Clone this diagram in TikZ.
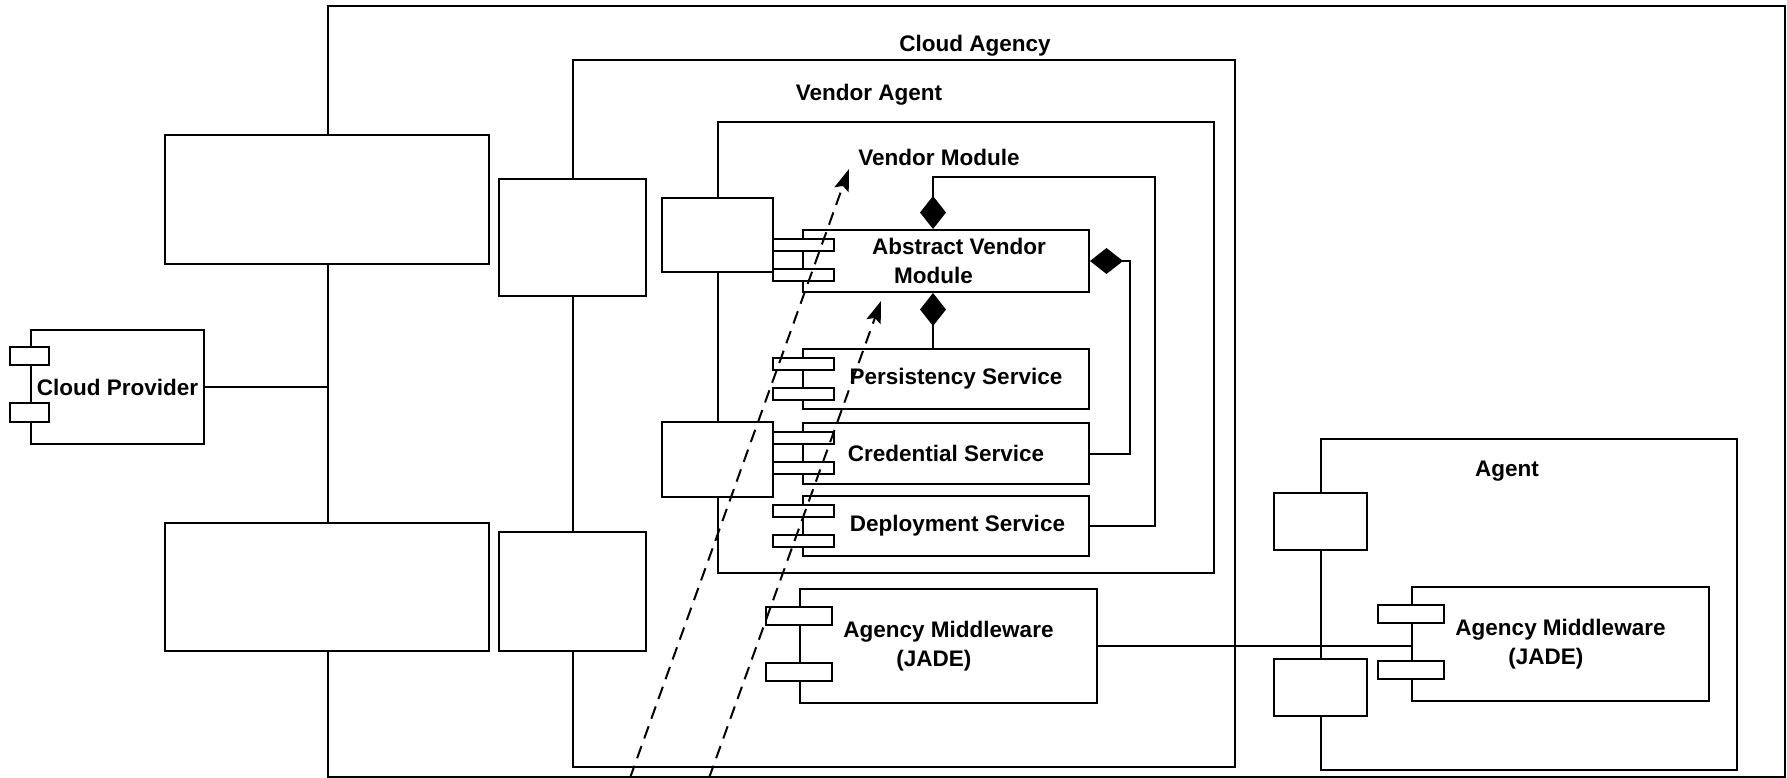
\documentclass[tikz,border=0pt]{standalone}
\usepackage{fontspec}
\setmainfont{Liberation Sans}
\usetikzlibrary{arrows.meta}

\tikzset{
  box/.style={draw, fill=white, line width=2pt, inner sep=0pt, anchor=north west},
  comp/.style={box, align=left},
  tab/.style={draw, fill=white, line width=2pt},
  lbl/.style={inner sep=0pt},
  part/.style={line width=2pt, -{Diamond[length=33pt,width=26pt]}},
  dep/.style={line width=2pt, dash pattern=on 13pt off 8pt, -{Stealth[length=22pt,width=15pt,inset=4pt]}},
}

\begin{document}
\begin{tikzpicture}[x=1pt, y=-1pt, font=\bfseries\fontsize{22.5}{29}\selectfont]
    \useasboundingbox (0,0) rectangle (1787,778);

    % containers
    \node[box, minimum width=1457pt, minimum height=771pt] (agency) at (327,5) {};
    \node[box, minimum width=662pt, minimum height=707pt] (vagent) at (572,59) {};
    \node[box, minimum width=496pt, minimum height=451pt] (vmodule) at (717,121) {};
    \node[box, minimum width=416pt, minimum height=331pt] (agent) at (1320,438) {};

    \node[lbl] (agencyname) at (975,46) {Cloud Agency};
    \node[lbl] (vagentname) at (869,95) {Vendor Agent};
    \node[lbl] (vmodulename) at (939,157) {Vendor Module};
    \node[lbl] (agentname) at (1507,471) {Agent};

    % ports
    \node[box, minimum width=324pt, minimum height=129pt] (caport1) at (164,134) {};
    \node[box, minimum width=324pt, minimum height=128pt] (caport2) at (164,522) {};
    \node[box, minimum width=147pt, minimum height=117pt] (vaport1) at (498,178) {};
    \node[box, minimum width=147pt, minimum height=119pt] (vaport2) at (498,531) {};
    \node[box, minimum width=111pt, minimum height=74pt] (vmport1) at (661,197) {};
    \node[box, minimum width=111pt, minimum height=75pt] (vmport2) at (661,421) {};
    \node[box, minimum width=93pt, minimum height=57pt] (agport1) at (1273,492) {};
    \node[box, minimum width=93pt, minimum height=57pt] (agport2) at (1273,658) {};

    % components
    \node[comp, minimum width=286pt, minimum height=62pt] (avm) at (802,229) {\hspace*{26pt}Abstract Vendor\\\hspace*{48pt}Module};
    \node[comp, minimum width=286pt, minimum height=60pt] (pers) at (802,348) {\hspace*{20pt}Persistency Service};
    \node[comp, minimum width=286pt, minimum height=61pt] (cred) at (802,422) {Credential Service};
    \node[comp, minimum width=286pt, minimum height=60pt] (depl) at (802,495) {\hspace*{23pt}Deployment Service};
    \node[comp, minimum width=297pt, minimum height=114pt] (mwv) at (799,588) {Agency Middleware\\\hspace*{53pt}(JADE)};
    \node[comp, minimum width=297pt, minimum height=114pt] (mwa) at (1411,586) {Agency Middleware\\\hspace*{53pt}(JADE)};
    \node[comp, minimum width=173pt, minimum height=114pt] (cp) at (30,329) {Cloud Provider};

    \foreach \c in {avm,pers,cred,depl}{
        \draw[tab] ([xshift=-29pt,yshift=-10pt]\c.north west) rectangle ++(61pt,-11.5pt);
        \draw[tab] ([xshift=-29pt,yshift=-40pt]\c.north west) rectangle ++(61pt,-11.5pt);
    }
    \foreach \c in {mwv,mwa}{
        \draw[tab] ([xshift=-33pt,yshift=-19pt]\c.north west) rectangle ++(66pt,-18pt);
        \draw[tab] ([xshift=-33pt,yshift=-75pt]\c.north west) rectangle ++(66pt,-18pt);
    }
    \draw[tab] ([xshift=-20pt,yshift=-18pt]cp.north west) rectangle ++(39pt,-18pt);
    \draw[tab] ([xshift=-20pt,yshift=-74pt]cp.north west) rectangle ++(39pt,-19pt);

    % links
    \draw[line width=2pt] (cp.east) -- (cp.east -| agency.west);
    \draw[line width=2pt] (mwv.east) -- (mwv.east -| mwa.west);

    \draw[part] (depl.east) -| (1155,177) -| ([xshift=-13pt]avm.north);
    \draw[part] (cred.east) -| ([xshift=40pt]avm.east) -- (avm.east);
    \draw[part] ([xshift=-13pt]pers.north) -- ([xshift=-13pt]avm.south);

    \coordinate (d1) at (630,778);
    \coordinate (d2) at (709,778);
    \coordinate (t1) at (849,169);
    \coordinate (t2) at (881,301);
    \draw[dep] (d1) -- (t1);
    \draw[dep] (d2) -- (t2);
\end{tikzpicture}
\end{document}
